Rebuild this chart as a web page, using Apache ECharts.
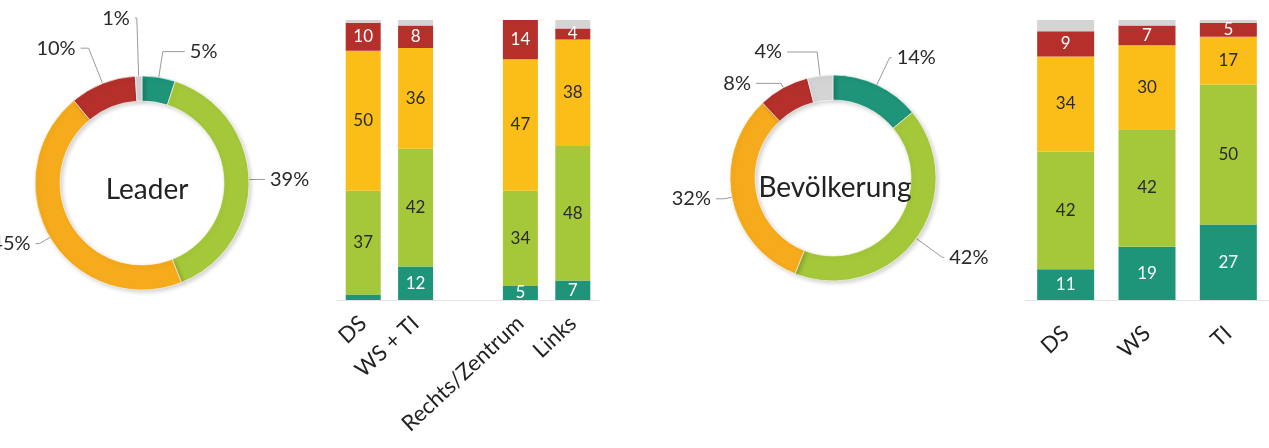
<!DOCTYPE html>
<html>
<head>
<meta charset="utf-8">
<script src="https://cdn.jsdelivr.net/npm/echarts@6/dist/echarts.min.js"></script>
<style>
html,body{margin:0;padding:0;background:#fff;}
#c{width:1269px;height:448px;}
</style>
</head>
<body>
<div id="c"></div>
<script>
// ---- data ----
const segments = ['Teal', 'Grün', 'Gelb', 'Rot', 'Grau'];
const leaderTitle = 'Leader';
const leaderPie = [5, 39, 45, 10, 1];
const popTitle = 'Bevölkerung';
const popPie = [14, 42, 32, 8, 4];

const leftCats = ['DS', 'WS + TI', '', 'Rechts/Zentrum', 'Links'];
const leftTeal   = [2, 12, null, 5, 7];
const leftGreen  = [37, 42, null, 34, 48];
const leftOrange = [50, 36, null, 47, 38];
const leftRed    = [10, 8, null, 14, 4];
const leftGray   = [1, 2, null, 0, 3];

const rightCats = ['DS', 'WS', 'TI'];
const rightTeal   = [11, 19, 27];
const rightGreen  = [42, 42, 50];
const rightOrange = [34, 30, 17];
const rightRed    = [9, 7, 5];
const rightGray   = [4, 2, 1];

// ---- styles ----
const FONT = 'Lato';
const barColors = ['#1e9479', '#a5c83a', '#fbbd17', '#b5302a', '#d4d4d4'];
const pieColors = ['#1e9479', '#a5c83a', '#f6ab1c', '#b5302a', '#d4d4d4'];
const labelColors = ['#ffffff', '#2a2a2a', '#2a2a2a', '#ffffff', '#2a2a2a'];
// leader-line lengths per slice [length, length2]
const leaderLines = [[26, 22], [6, 10], [12, 4], [38, 8], [58, 2]];
const popLines = [[30, 2], [32, 2], [8, 8], [5, 25], [24, 30]];

const chart = echarts.init(document.getElementById('c'));

function barSeries(values, idx, axisIdx, width, stack) {
  return {
    type: 'bar',
    name: segments[idx],
    xAxisIndex: axisIdx,
    yAxisIndex: axisIdx,
    stack: stack,
    barWidth: width,
    data: values,
    itemStyle: { color: barColors[idx] },
    label: {
      show: idx !== 4,
      position: 'inside',
      color: labelColors[idx],
      fontFamily: FONT,
      fontSize: 17,
      formatter: p => (p.value >= 4 ? String(p.value) : '')
    },
    silent: true
  };
}

function pieSeries(values, center, radius, lines) {
  return {
    type: 'pie',
    center: center,
    radius: radius,
    startAngle: 90,
    clockwise: true,
    avoidLabelOverlap: false,
    data: values.map((v, i) => ({
      value: v, name: segments[i],
      itemStyle: { color: pieColors[i] },
      labelLine: { length: lines[i][0], length2: lines[i][1] }
    })),
    label: {
      show: true,
      position: 'outside',
      alignTo: 'none',
      formatter: p => p.value + '%',
      fontFamily: FONT,
      fontSize: 20,
      color: '#2a2a2a'
    },
    labelLine: { show: true, lineStyle: { color: '#9a9a9a', width: 1 } },
    itemStyle: { borderColor: 'rgba(255,255,255,0.6)', borderWidth: 1,
      shadowBlur: 4, shadowColor: 'rgba(0,0,0,0.18)', shadowOffsetX: 2, shadowOffsetY: 2 },
    silent: true
  };
}

function axisLabelStyle(margin) {
  return { rotate: 43, interval: 0, fontFamily: FONT, fontSize: 22, color: '#222', margin: margin };
}

const option = {
  animation: false,
  backgroundColor: '#fff',
  title: [
    { text: leaderTitle, left: 142, top: 185, textAlign: 'center', textVerticalAlign: 'middle',
      textStyle: { fontFamily: FONT, fontSize: 28, fontWeight: 'normal', color: '#222' } },
    { text: popTitle, left: 830, top: 183, textAlign: 'center', textVerticalAlign: 'middle',
      textStyle: { fontFamily: FONT, fontSize: 28, fontWeight: 'normal', color: '#222' } }
  ],
  grid: [
    { left: 337, top: 20, width: 262, height: 280 },
    { left: 1025, top: 20, width: 252, height: 280 }
  ],
  xAxis: [
    { type: 'category', gridIndex: 0, data: leftCats, axisTick: { show: false },
      axisLine: { lineStyle: { color: '#e4e4e4' } }, axisLabel: axisLabelStyle(20) },
    { type: 'category', gridIndex: 1, data: rightCats, axisTick: { show: false },
      axisLine: { lineStyle: { color: '#e4e4e4' } }, axisLabel: axisLabelStyle(30) }
  ],
  yAxis: [
    { type: 'value', gridIndex: 0, min: 0, max: 100, show: false },
    { type: 'value', gridIndex: 1, min: 0, max: 100, show: false }
  ],
  series: [
    barSeries(leftTeal, 0, 0, 35, 'L'),
    barSeries(leftGreen, 1, 0, 35, 'L'),
    barSeries(leftOrange, 2, 0, 35, 'L'),
    barSeries(leftRed, 3, 0, 35, 'L'),
    barSeries(leftGray, 4, 0, 35, 'L'),
    barSeries(rightTeal, 0, 1, 57, 'R'),
    barSeries(rightGreen, 1, 1, 57, 'R'),
    barSeries(rightOrange, 2, 1, 57, 'R'),
    barSeries(rightRed, 3, 1, 57, 'R'),
    barSeries(rightGray, 4, 1, 57, 'R'),
    pieSeries(leaderPie, [142, 183], [82, 107], leaderLines),
    pieSeries(popPie, [833, 178], [78, 103], popLines)
  ]
};
chart.setOption(option);
</script>
</body>
</html>
